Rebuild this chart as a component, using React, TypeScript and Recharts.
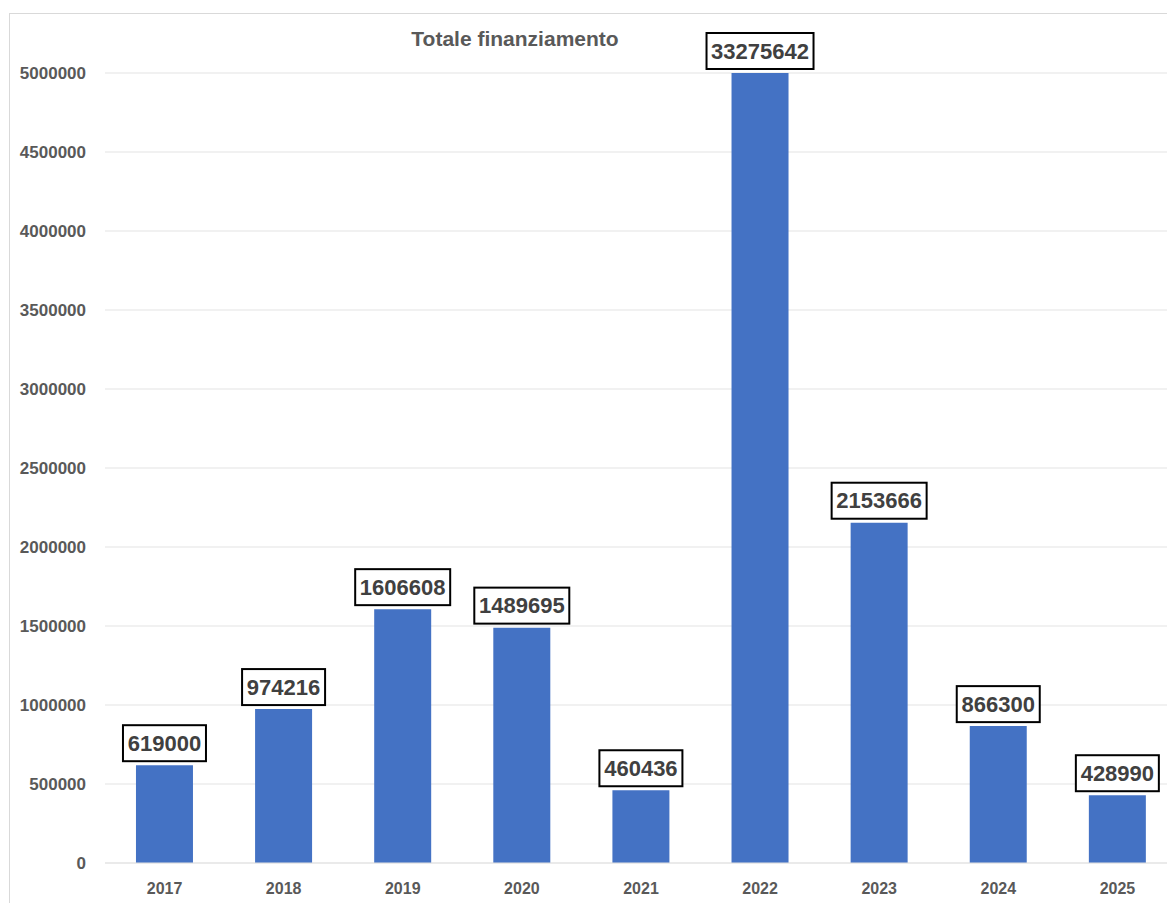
import { BarChart, Bar, XAxis, YAxis, CartesianGrid, LabelList } from "recharts";

const years = ["2017", "2018", "2019", "2020", "2021", "2022", "2023", "2024", "2025"];
const totals = [619000, 974216, 1606608, 1489695, 460436, 33275642, 2153666, 866300, 428990];
const yTicks = [0, 500000, 1000000, 1500000, 2000000, 2500000, 3000000, 3500000, 4000000, 4500000, 5000000];
const Y_MAX = 5000000;

const data = years.map((year, i) => ({ year, value: totals[i] }));

const FONT = "'Liberation Sans', Arial, sans-serif";

function BoxLabel(props: any) {
  const { x, y, width, value } = props;
  const text = String(value);
  const boxW = text.length * 12 + 11;
  const boxH = 36;
  const cx = x + width / 2;
  const bottom = y - 4;
  return (
    <g>
      <rect
        x={cx - boxW / 2}
        y={bottom - boxH}
        width={boxW}
        height={boxH}
        fill="#fff"
        stroke="#000"
        strokeWidth={2}
      />
      <text
        x={cx}
        y={bottom - boxH / 2}
        textAnchor="middle"
        dominantBaseline="central"
        fontFamily={FONT}
        fontWeight="bold"
        fontSize={22}
        fill="#404040"
      >
        {text}
      </text>
    </g>
  );
}

export default function App() {
  return (
    <div style={{ marginTop: 5, marginLeft: 1, width: 1165, height: 889, overflow: "hidden", borderTop: "1px solid #d9d9d9", borderLeft: "1px solid #d9d9d9", position: "relative", fontFamily: FONT }}>
      <div style={{ position: "absolute", left: 380, top: 13, width: 250, textAlign: "center", fontSize: 21, fontWeight: "bold", color: "#595959" }}>
        Totale finanziamento
      </div>
      <BarChart width={1167} height={889} data={data} margin={{ top: 59, right: 0, bottom: 0, left: 0 }} barCategoryGap="26%">
        <CartesianGrid vertical={false} stroke="#e3e3e3" />
        <XAxis
          dataKey="year"
          height={40}
          tickLine={false}
          axisLine={{ stroke: "#e3e3e3" }}
          tickMargin={14}
          tick={{ fill: "#595959", fontSize: 16, fontWeight: "bold", fontFamily: FONT }}
        />
        <YAxis
          width={95}
          domain={[0, Y_MAX]}
          ticks={yTicks}
          interval={0}
          tickLine={false}
          axisLine={false}
          tickMargin={13}
          tick={{ fill: "#595959", fontSize: 17, fontWeight: "bold", fontFamily: FONT }}
        />
        <Bar dataKey={(d: any) => Math.min(d.value, Y_MAX)} fill="#4472c4" isAnimationActive={false}>
          <LabelList dataKey="value" content={BoxLabel} />
        </Bar>
      </BarChart>
    </div>
  );
}
